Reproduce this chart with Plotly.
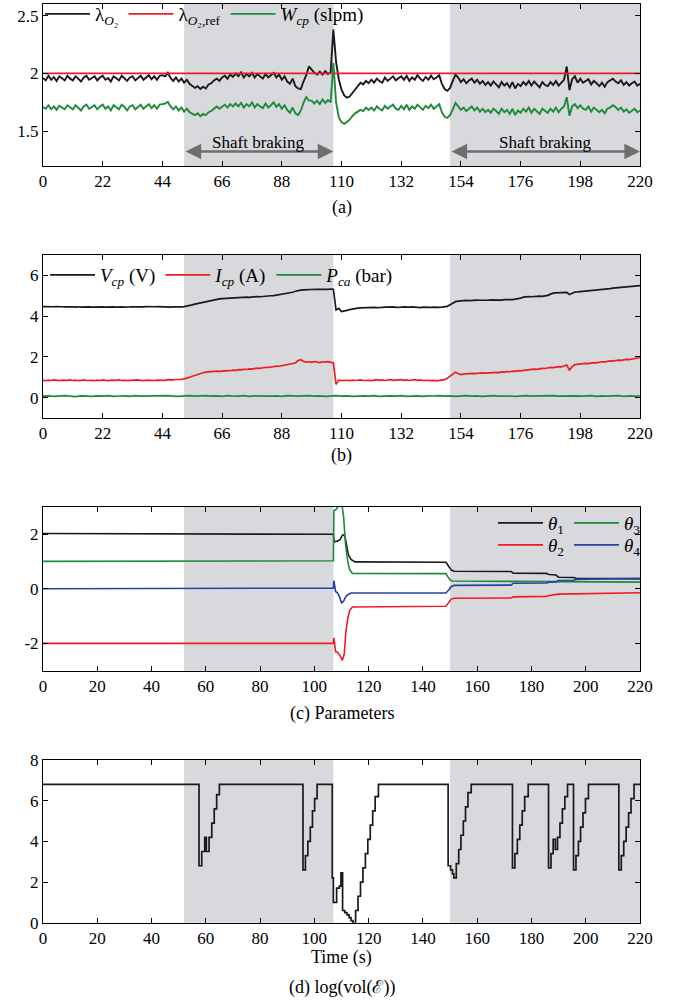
import plotly.graph_objects as go

# ---------------- data ----------------
T_A = list(range(0, 221))
LAMBDA_O2 = [
    1.96,1.94,1.98,1.945,1.97,1.935,1.975,1.96,1.94,1.98,1.955,
    1.94,1.975,1.955,1.93,1.965,1.98,1.945,1.96,1.975,1.94,1.965,
    1.98,1.945,1.96,1.93,1.975,1.955,1.94,1.98,1.96,1.935,1.965,
    1.975,1.94,1.96,1.98,1.945,1.965,1.985,1.95,1.975,1.945,1.98,
    1.985,1.975,2.005,1.96,1.935,1.965,1.93,1.955,1.92,1.945,1.91,
    1.895,1.875,1.89,1.865,1.885,1.87,1.905,1.915,1.94,1.955,1.935,
    1.965,1.98,1.955,1.99,1.97,2.0,1.975,2.01,1.965,1.995,1.975,
    2.005,1.965,1.995,1.975,1.955,1.995,1.965,1.985,2.005,1.965,1.99,
    1.945,1.975,1.93,1.91,1.955,1.89,1.87,1.865,1.93,1.985,2.06,
    2.035,2.005,1.99,2.015,1.99,2.02,1.995,2.01,2.38,2.10,1.95,
    1.86,1.81,1.79,1.80,1.83,1.87,1.895,1.92,1.905,1.935,1.915,
    1.945,1.92,1.955,1.935,1.92,1.965,1.935,1.955,1.975,1.94,1.96,
    1.975,1.945,1.98,1.935,1.965,1.945,1.985,1.955,1.935,1.97,1.945,
    1.98,1.95,1.965,1.985,1.91,1.865,1.85,1.875,1.935,1.99,1.965,
    1.925,1.95,1.915,1.94,1.955,1.92,1.945,1.91,1.935,1.9,1.925,
    1.895,1.93,1.905,1.88,1.925,1.895,1.915,1.88,1.925,1.87,1.91,
    1.89,1.925,1.9,1.935,1.895,1.93,1.905,1.88,1.925,1.9,1.89,
    1.925,1.9,1.935,1.895,1.925,1.945,2.06,1.855,1.95,1.975,1.92,
    1.955,1.92,1.935,1.95,1.905,1.935,1.915,1.89,1.92,1.885,1.925,
    1.94,1.955,1.93,1.915,1.94,1.9,1.925,1.895,1.915,1.93,1.895,
    1.91,
]
LAMBDA_REF_T = [0, 220]
LAMBDA_REF = [2.0, 2.0]
W_CP = [
    1.71,1.695,1.725,1.69,1.715,1.685,1.72,1.705,1.69,1.725,1.705,
    1.69,1.725,1.7,1.68,1.715,1.73,1.695,1.71,1.725,1.69,1.715,
    1.73,1.695,1.715,1.68,1.725,1.705,1.69,1.73,1.71,1.68,1.715,
    1.725,1.69,1.71,1.73,1.695,1.715,1.735,1.7,1.725,1.695,1.73,
    1.735,1.74,1.755,1.715,1.69,1.715,1.68,1.705,1.67,1.695,1.665,
    1.655,1.64,1.655,1.63,1.65,1.64,1.665,1.675,1.695,1.715,1.695,
    1.715,1.73,1.705,1.735,1.715,1.74,1.715,1.745,1.705,1.735,1.715,
    1.75,1.705,1.735,1.715,1.7,1.74,1.705,1.725,1.75,1.71,1.735,
    1.695,1.725,1.685,1.66,1.705,1.655,1.64,1.68,1.745,1.795,1.765,
    1.765,1.74,1.765,1.735,1.775,1.745,1.77,1.75,2.09,1.75,1.62,
    1.58,1.565,1.58,1.60,1.63,1.655,1.67,1.685,1.675,1.705,1.685,
    1.705,1.68,1.715,1.695,1.68,1.72,1.695,1.715,1.73,1.695,1.685,
    1.72,1.69,1.73,1.685,1.715,1.695,1.73,1.705,1.685,1.72,1.7,
    1.73,1.695,1.715,1.735,1.665,1.625,1.615,1.64,1.69,1.745,1.715,
    1.685,1.705,1.675,1.695,1.715,1.68,1.705,1.67,1.695,1.665,1.685,
    1.66,1.695,1.675,1.65,1.695,1.665,1.685,1.65,1.695,1.64,1.68,
    1.66,1.695,1.67,1.705,1.66,1.695,1.675,1.65,1.695,1.675,1.66,
    1.695,1.67,1.705,1.665,1.695,1.715,1.795,1.635,1.715,1.735,1.7,
    1.725,1.695,1.685,1.715,1.67,1.705,1.685,1.665,1.685,1.655,1.695,
    1.705,1.725,1.71,1.685,1.705,1.67,1.69,1.66,1.68,1.695,1.665,
    1.68,
]

T_B = list(range(0, 221))
V_CP = [
    4.47,4.46,4.47,4.45,4.46,4.47,4.45,4.46,4.45,4.46,4.44,
    4.45,4.44,4.46,4.44,4.45,4.43,4.45,4.44,4.45,4.43,4.44,
    4.45,4.44,4.45,4.43,4.45,4.44,4.46,4.45,4.44,4.46,4.45,
    4.46,4.45,4.47,4.46,4.45,4.47,4.46,4.48,4.46,4.47,4.46,
    4.47,4.45,4.46,4.44,4.45,4.44,4.46,4.45,4.47,4.49,4.52,
    4.55,4.59,4.62,4.66,4.69,4.72,4.75,4.78,4.81,4.83,4.85,
    4.86,4.87,4.86,4.88,4.89,4.90,4.89,4.91,4.92,4.93,4.92,
    4.94,4.95,4.96,4.95,4.97,4.98,4.99,5.00,5.01,5.03,5.04,
    5.06,5.08,5.10,5.13,5.17,5.22,5.26,5.28,5.29,5.30,5.29,
    5.31,5.30,5.32,5.31,5.30,5.32,5.31,5.33,5.32,4.30,4.38,
    4.22,4.24,4.28,4.32,4.35,4.37,4.39,4.40,4.41,4.40,4.42,
    4.41,4.43,4.42,4.44,4.43,4.44,4.45,4.44,4.45,4.43,4.45,
    4.44,4.45,4.43,4.44,4.45,4.43,4.44,4.42,4.44,4.43,4.45,
    4.43,4.44,4.42,4.43,4.44,4.45,4.48,4.56,4.64,4.71,4.74,
    4.76,4.75,4.77,4.76,4.78,4.77,4.79,4.78,4.77,4.79,4.78,
    4.80,4.79,4.81,4.80,4.79,4.81,4.80,4.82,4.81,4.83,4.84,
    4.88,4.93,4.95,4.96,4.95,4.97,4.96,4.98,4.97,4.99,5.02,
    5.08,5.13,5.14,5.15,5.14,5.16,5.17,5.06,5.12,5.18,5.19,
    5.20,5.22,5.23,5.24,5.26,5.27,5.28,5.30,5.31,5.33,5.34,
    5.35,5.37,5.38,5.40,5.41,5.43,5.44,5.46,5.45,5.47,5.48,
    5.50,
]
I_CP = [
    0.85,0.83,0.86,0.84,0.87,0.85,0.83,0.86,0.84,0.85,0.87,
    0.84,0.86,0.83,0.85,0.87,0.84,0.86,0.85,0.83,0.86,0.84,
    0.87,0.85,0.83,0.86,0.84,0.85,0.87,0.84,0.86,0.83,0.85,
    0.86,0.84,0.87,0.85,0.83,0.86,0.85,0.87,0.84,0.86,0.85,
    0.87,0.85,0.88,0.86,0.87,0.89,0.88,0.90,0.92,0.95,1.00,
    1.05,1.10,1.15,1.19,1.22,1.25,1.27,1.26,1.28,1.30,1.29,
    1.31,1.30,1.33,1.32,1.35,1.34,1.37,1.36,1.39,1.38,1.41,
    1.40,1.43,1.45,1.44,1.47,1.49,1.48,1.51,1.53,1.55,1.54,
    1.57,1.59,1.61,1.64,1.66,1.70,1.82,1.86,1.78,1.74,1.76,
    1.73,1.77,1.75,1.72,1.76,1.74,1.77,1.73,1.70,0.65,0.86,
    0.84,0.86,0.85,0.83,0.86,0.84,0.85,0.87,0.84,0.86,0.85,
    0.83,0.86,0.88,0.85,0.87,0.84,0.86,0.88,0.85,0.87,0.86,
    0.88,0.85,0.87,0.84,0.86,0.88,0.85,0.87,0.84,0.86,0.85,
    0.83,0.85,0.82,0.84,0.86,0.88,0.95,1.05,1.18,1.25,1.17,
    1.13,1.15,1.17,1.16,1.19,1.18,1.20,1.19,1.21,1.20,1.22,
    1.21,1.23,1.24,1.23,1.26,1.25,1.28,1.27,1.30,1.29,1.32,
    1.31,1.34,1.36,1.35,1.38,1.40,1.39,1.42,1.44,1.43,1.46,
    1.48,1.47,1.50,1.52,1.51,1.56,1.60,1.36,1.52,1.62,1.64,
    1.63,1.66,1.68,1.67,1.70,1.72,1.71,1.74,1.76,1.75,1.78,
    1.80,1.79,1.82,1.84,1.83,1.86,1.88,1.87,1.90,1.93,1.95,
    1.97,
]
T_P = list(range(0, 221, 2))
P_CA = [
    0.07,0.09,0.06,0.08,0.10,0.07,0.05,0.09,0.08,0.06,
    0.09,0.07,0.10,0.06,0.08,0.09,0.06,0.10,0.07,0.08,
    0.06,0.09,0.08,0.10,0.07,0.06,0.09,0.10,0.07,0.08,
    0.10,0.07,0.09,0.06,0.10,0.08,0.07,0.10,0.06,0.09,
    0.08,0.10,0.07,0.09,0.06,0.10,0.08,0.07,0.09,0.10,
    0.07,0.09,0.06,0.08,0.10,0.07,0.09,0.06,0.08,0.09,
    0.07,0.10,0.06,0.08,0.09,0.07,0.10,0.06,0.08,0.09,
    0.06,0.09,0.08,0.10,0.07,0.09,0.06,0.08,0.10,0.07,
    0.09,0.06,0.08,0.10,0.07,0.09,0.08,0.06,0.09,0.10,
    0.07,0.08,0.06,0.09,0.10,0.07,0.08,0.06,0.09,0.07,
    0.08,0.10,0.06,0.09,0.07,0.08,0.10,0.06,0.09,0.07,
    0.08,
]

TH1_T = [0, 60, 107, 107.3, 108.5, 109.5, 110.3, 111, 111.6, 112.5, 113.5, 115, 148.5, 149.5,
         150.5, 151.5, 172.5, 173.3, 185.5, 186.5, 189, 190, 195.5, 196.5, 212, 220]
TH1 = [2.02, 2.01, 1.99, 1.72, 1.74, 1.80, 1.95, 1.98, 1.75, 1.25, 1.07, 0.98, 0.97, 0.82,
       0.68, 0.64, 0.63, 0.57, 0.56, 0.52, 0.50, 0.42, 0.41, 0.38, 0.37, 0.36]
TH3_T = [0, 107, 107.2, 108, 109, 110, 110.8, 111.5, 112.3, 113, 114, 148.5, 149.3, 150.3,
         151, 172.5, 173.3, 190, 220]
TH3 = [1.0, 1.02, 2.85, 2.9, 3.05, 3.2, 2.6, 1.6, 1.0, 0.7, 0.56, 0.55, 0.42, 0.30,
       0.28, 0.27, 0.26, 0.25, 0.24]
TH2_T = [0, 107, 107.2, 107.8, 108.5, 109.5, 110.3, 111, 111.6, 112.3, 113, 114, 148.5, 149.5,
         150.5, 151.5, 172.5, 173.3, 185.5, 186.5, 189, 190, 220]
TH2 = [-2.0, -2.0, -1.80, -2.30, -2.32, -2.45, -2.62, -2.40, -1.60, -1.10, -0.80, -0.67, -0.64, -0.50,
       -0.38, -0.35, -0.34, -0.30, -0.28, -0.25, -0.23, -0.20, -0.15]
TH4_T = [0, 107, 107.2, 107.8, 108.5, 109.3, 110, 110.8, 111.5, 112.3, 113.5, 148.5, 149.5, 150.5,
         151.5, 172.5, 173.3, 185.5, 186.5, 189, 190, 195.5, 196.5, 212, 220]
TH4 = [0.0, 0.02, 0.30, -0.10, -0.15, -0.30, -0.52, -0.45, -0.30, -0.22, -0.16, -0.16, -0.05, 0.08,
       0.12, 0.13, 0.20, 0.21, 0.24, 0.25, 0.30, 0.31, 0.34, 0.36, 0.38]

VOL_T = [0, 57.5, 58.5, 59.6, 60.2, 61.2, 62.2, 63.1, 64.0, 65.0,
         95.8, 96.7, 97.6, 98.5, 99.3, 100.1, 101.0,
         106.6, 107.0, 108.2, 109.2, 109.8, 110.4, 111.2, 112.0, 112.8, 113.5, 114.2,
         115.2, 116.1, 117.0, 117.9, 118.8, 119.7, 120.6, 121.5, 122.4, 123.6,
         149.3, 150.2, 150.9, 151.4, 152.3, 153.2, 154.0, 154.9, 155.7, 156.6, 157.8,
         173.0, 173.9, 174.8, 175.7, 176.6, 177.5, 178.8,
         186.3, 187.2, 188.0, 188.8, 189.6, 190.5, 191.4, 192.3, 193.3,
         195.5, 196.4, 197.3, 198.1, 199.0, 199.9, 201.0,
         212.2, 213.1, 214.0, 214.9, 215.8, 216.7, 217.8, 220]
VOL = [6.8, 2.8, 3.5, 4.2, 3.5, 4.2, 4.9, 5.6, 6.3, 6.8,
       2.6, 3.3, 4.0, 4.7, 5.5, 6.1, 6.8,
       2.2, 1.0, 1.7, 1.8, 2.45, 0.6, 0.5, 0.38, 0.25, 0.1, 0.0,
       0.6, 1.3, 2.0, 2.7, 3.4, 4.1, 4.8, 5.5, 6.2, 6.8,
       2.8, 2.6, 2.4, 2.2, 2.9, 3.6, 4.3, 5.0, 5.7, 6.4, 6.8,
       2.7, 3.4, 4.1, 4.8, 5.5, 6.2, 6.8,
       2.7, 3.4, 4.1, 3.6, 4.2, 4.9, 5.6, 6.2, 6.8,
       2.6, 3.3, 4.0, 4.7, 5.4, 6.1, 6.8,
       2.6, 3.3, 4.0, 4.7, 5.4, 6.1, 6.8, 6.8]

BRAKE_INTERVALS = [(52, 107), (150, 220)]
XTICKS_AB = list(range(0, 221, 22))
XTICKS_CD = list(range(0, 221, 20))

# ---------------- layout geometry ----------------
W, H = 679, 1004
ML, MR, MT, MB = 43, 39, 4, 81
PH = H - MT - MB
PW = W - ML - MR


def py(ypx):
    return (H - MB - ypx) / PH


def px(xpx):
    return (xpx - ML) / PW


FONT = "Liberation Serif, Times New Roman, Times, serif"
BLACK = "#1a1a1a"
RED = "#ee1c25"
GREEN = "#1f8a3b"
BLUE = "#2341a8"
SHADE = "#d8d9dc"

PANELS = [  # (top px, bottom px)
    (4, 166), (255, 418), (506.7, 670.7), (760, 922.7)
]

fig = go.Figure()

# panel (a)
fig.add_trace(go.Scatter(x=T_A, y=LAMBDA_O2, mode="lines", line=dict(color=BLACK, width=1.9),
                         name="λ<sub><i>O</i>₂</sub>", xaxis="x", yaxis="y", legend="legend"))
fig.add_trace(go.Scatter(x=LAMBDA_REF_T, y=LAMBDA_REF, mode="lines", line=dict(color=RED, width=1.7),
                         name="λ<sub><i>O</i>₂,ref</sub>", xaxis="x", yaxis="y", legend="legend"))
fig.add_trace(go.Scatter(x=T_A, y=W_CP, mode="lines", line=dict(color=GREEN, width=1.9),
                         name="<i>W<sub>cp</sub></i> (slpm)", xaxis="x", yaxis="y", legend="legend"))
# panel (b)
fig.add_trace(go.Scatter(x=T_B, y=V_CP, mode="lines", line=dict(color=BLACK, width=1.7),
                         name="<i>V<sub>cp</sub></i> (V)", xaxis="x2", yaxis="y2", legend="legend4"))
fig.add_trace(go.Scatter(x=T_B, y=I_CP, mode="lines", line=dict(color=RED, width=1.7),
                         name="<i>I<sub>cp</sub></i> (A)", xaxis="x2", yaxis="y2", legend="legend4"))
fig.add_trace(go.Scatter(x=T_P, y=P_CA, mode="lines", line=dict(color=GREEN, width=1.7),
                         name="<i>P<sub>ca</sub></i> (bar)", xaxis="x2", yaxis="y2", legend="legend4"))
# panel (c)
fig.add_trace(go.Scatter(x=TH1_T, y=TH1, mode="lines", line=dict(color=BLACK, width=1.6),
                         name="<i>θ</i><sub>1</sub>", xaxis="x3", yaxis="y3", legend="legend2"))
fig.add_trace(go.Scatter(x=TH3_T, y=TH3, mode="lines", line=dict(color=GREEN, width=1.6),
                         name="<i>θ</i><sub>3</sub>", xaxis="x3", yaxis="y3", legend="legend2"))
fig.add_trace(go.Scatter(x=TH2_T, y=TH2, mode="lines", line=dict(color=RED, width=1.6),
                         name="<i>θ</i><sub>2</sub>", xaxis="x3", yaxis="y3", legend="legend3"))
fig.add_trace(go.Scatter(x=TH4_T, y=TH4, mode="lines", line=dict(color=BLUE, width=1.6),
                         name="<i>θ</i><sub>4</sub>", xaxis="x3", yaxis="y3", legend="legend3"))
# panel (d)
fig.add_trace(go.Scatter(x=VOL_T, y=VOL, mode="lines", line=dict(color=BLACK, width=1.7, shape="hv"),
                         showlegend=False, xaxis="x4", yaxis="y4"))

# shading of the shaft-braking intervals
shapes = []
for ax in ["", "2", "3", "4"]:
    for (a, b) in BRAKE_INTERVALS:
        shapes.append(dict(type="rect", xref="x" + ax, yref=("y" + ax) + " domain", x0=a, x1=b, y0=0, y1=1,
                           fillcolor=SHADE, line=dict(width=0), layer="below"))

axis_common = dict(showline=True, linecolor="black", linewidth=1, mirror="ticks", ticks="inside",
                   ticklen=5, tickcolor="black", showgrid=False, zeroline=False, automargin=False,
                   tickfont=dict(family=FONT, size=17, color="black"))

layout = dict(width=W, height=H, margin=dict(l=ML, r=MR, t=MT, b=MB, autoexpand=False),
              paper_bgcolor="white", plot_bgcolor="white", shapes=shapes,
              font=dict(family=FONT, size=17, color="black"))

yinfo = [
    dict(range=[1.2, 2.6], tickvals=[1.5, 2, 2.5], ticktext=["1.5", "2", "2.5"]),
    dict(range=[-1, 7], tickvals=[0, 2, 4, 6], ticktext=["0", "2", "4", "6"]),
    dict(range=[-3, 3], tickvals=[-2, 0, 2], ticktext=["-2", "0", "2"]),
    dict(range=[0, 8], tickvals=[0, 2, 4, 6, 8], ticktext=["0", "2", "4", "6", "8"]),
]
for i, (top, bot) in enumerate(PANELS):
    sfx = "" if i == 0 else str(i + 1)
    xt = XTICKS_AB if i < 2 else XTICKS_CD
    layout["xaxis" + sfx] = dict(axis_common, domain=[0, 1], range=[0, 220], tickvals=xt,
                                 anchor="y" + sfx)
    layout["yaxis" + sfx] = dict(axis_common, domain=[py(bot), py(top)], anchor="x" + sfx,
                                 **yinfo[i])

leg_common = dict(orientation="h", bgcolor="rgba(0,0,0,0)", font=dict(family=FONT, size=19, color="black"),
                  itemwidth=45, tracegroupgap=0)
layout["legend"] = dict(leg_common, x=px(40), y=py(-5), xanchor="left", yanchor="top")
layout["legend4"] = dict(leg_common, x=px(45), y=py(256), xanchor="left", yanchor="top")
layout["legend2"] = dict(leg_common, x=1.01, y=py(504), xanchor="right", yanchor="top")
layout["legend3"] = dict(leg_common, x=1.01, y=py(526), xanchor="right", yanchor="top")

annotations = []
# shaft braking arrows + labels
for (a, b) in BRAKE_INTERVALS:
    annotations.append(dict(x=b, y=1.325, ax=a, ay=1.325, xref="x", yref="y", axref="x", ayref="y",
                            text="", showarrow=True, arrowhead=2, arrowside="end+start",
                            arrowsize=1.2, arrowwidth=2.6, arrowcolor="#6e6e6e", standoff=0, startstandoff=0))
    annotations.append(dict(x=(a + b) / 2, y=1.40, xref="x", yref="y", text="Shaft braking",
                            showarrow=False, font=dict(family=FONT, size=17, color="black")))
# captions
for txt, ypx in [("(a)", 208), ("(b)", 456), ("(c) Parameters", 713), ("Time (s)", 957),
                 ("(d) log(vol(ℰ))", 987)]:
    annotations.append(dict(x=0.5, y=py(ypx), xref="paper", yref="paper", text=txt, showarrow=False,
                            yanchor="middle", xanchor="center",
                            font=dict(family=FONT, size=18, color="black")))
layout["annotations"] = annotations

fig.update_layout(**layout)
fig.write_html("out.html", config={"displayModeBar": False},
               post_script="document.body.style.margin='0';document.body.style.overflow='hidden';")
